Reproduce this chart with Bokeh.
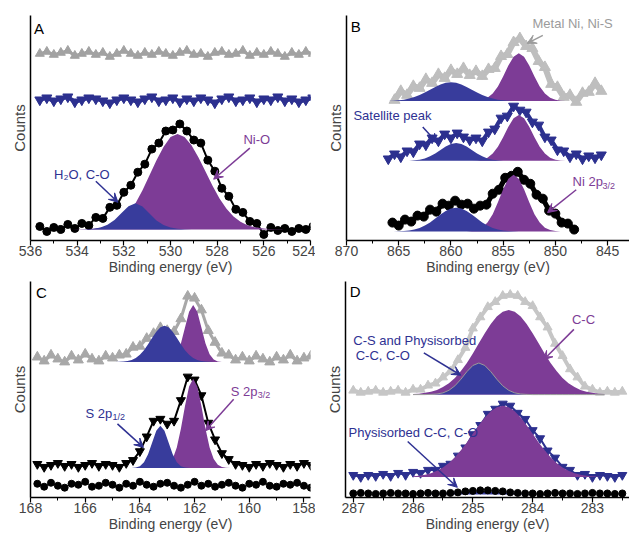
from bokeh.plotting import figure
from bokeh.layouts import column, row
from bokeh.models import Range1d, FixedTicker, Label, Arrow, VeeHead
from bokeh.embed import file_html
from bokeh.resources import INLINE

FONT = "Liberation Sans"
PURPLE = "#7D3C96"
BLUE = "#383C9C"
MBLUE = "#2C308F"
TXT_BLUE = "#2E3192"
TXT_GRAY = "#9B9B9B"

# ---------------- Panel A : O 1s ----------------
A_TICKS = [536, 534, 532, 530, 528, 526, 524]
A_MINOR = [535, 533, 531, 529, 527, 525]
A_X = [535.6, 535.3, 535.0, 534.7, 534.4, 534.1, 533.8, 533.5, 533.2, 532.9,
       532.6, 532.3, 532.0, 531.7, 531.4, 531.1, 530.8, 530.5, 530.2, 529.9,
       529.6, 529.3, 529.0, 528.7, 528.4, 528.1, 527.8, 527.5, 527.2, 526.9,
       526.6, 526.3, 526.0, 525.7, 525.4, 525.1, 524.8, 524.5, 524.2, 523.9]
A_GRAY = [186, 188, 185, 187, 189, 184, 186, 188, 185, 187, 183, 186, 189, 186, 184, 187, 185, 188, 186, 184,
          187, 189, 185, 186, 183, 187, 188, 185, 186, 189, 184, 187, 185, 188, 186, 183, 187, 185, 188, 186]
A_BLUE = [140, 142, 139, 141, 143, 138, 140, 142, 141, 139, 137, 140, 142, 140, 138, 141, 143, 139, 140, 142,
          138, 141, 139, 142, 140, 137, 141, 143, 139, 140, 142, 138, 141, 140, 143, 139, 141, 138, 140, 142]
A_BLACK = [14, 9, 13, 11, 16, 12, 17, 15, 23, 22, 33, 35, 48, 55, 68, 76, 91, 97, 109, 110,
           116, 109, 100, 97, 80, 69, 52, 44, 31, 28, 19, 17, 6, 13, 10, 12, 9, 12, 11, 14]
A_FIT_X = [534.2, 533.9, 533.6, 533.3, 533.0, 532.7, 532.4, 532.1, 531.8, 531.5, 531.2,
           530.9, 530.6, 530.3, 530.0, 529.7, 529.4, 529.1, 528.8, 528.5, 528.2, 527.9,
           527.6, 527.3, 527.0, 526.7, 526.4, 526.1, 525.8, 525.5, 525.2]
A_BASE = 11
A_FIT_NIO = [0, 0.1, 0.3, 0.8, 1.6, 3.2, 6, 10.5, 17, 26, 39, 54, 69, 82, 92, 95, 92.1, 83.8, 71.7, 57.6,
             43.5, 30.8, 20.5, 12.9, 7.6, 4.2, 2.2, 1.1, 0.5, 0.2, 0.1]
A_FIT_H2O = [0, 0, 0.1, 0.8, 2.0, 4.8, 9.5, 16.5, 23.0, 26, 22.9, 16.0, 9.0, 4.5, 2.0, 0.8, 0.3,
             0, 0, 0, 0, 0, 0, 0, 0, 0, 0, 0, 0, 0, 0]

# ---------------- Panel B : Ni 2p ----------------
B_TICKS = [870, 865, 860, 855, 850, 845]
B_MINOR = [867.5, 862.5, 857.5, 852.5, 847.5]
B_X_GRAY = [865.4, 864.8, 864.2, 863.6, 863.0, 862.4, 861.8, 861.2, 860.6, 860.0, 859.4, 858.8,
            858.2, 857.6, 857.0, 856.4, 855.8, 855.2, 854.6, 854.0, 853.4, 852.8, 852.2, 851.6,
            851.0, 850.4, 849.8, 849.2, 848.6, 848.0, 847.4, 846.8, 846.2, 845.6]
B_GRAY = [141, 150, 146, 155, 153, 162, 158, 167, 163, 171, 167, 173, 166, 170, 165, 172, 173, 185,
          187, 199, 203, 195, 193, 180, 174, 157, 154, 144, 146, 139, 148, 149, 158, 150]
B_X_BLUE = [866.0, 865.4, 864.8, 864.2, 863.6, 863.0, 862.4, 861.8, 861.2, 860.6, 860.0, 859.4,
            858.8, 858.2, 857.6, 857.0, 856.4, 855.8, 855.2, 854.6, 854.0, 853.4, 852.8, 852.2,
            851.6, 851.0, 850.4, 849.8, 849.2, 848.6, 848.0, 847.4, 846.8, 846.2, 845.6]
B_BLUE = [82, 87, 84, 90, 89, 97, 96, 103, 100, 107, 103, 108, 104, 101, 103, 100, 109, 112,
          123, 125, 135, 131, 129, 119, 116, 104, 101, 91, 90, 84, 87, 82, 85, 83, 86]
B_X_BLACK = [865.6, 865.0, 864.4, 863.8, 863.2, 862.6, 862.0, 861.4, 860.8, 860.2, 859.6, 859.0,
             858.4, 857.8, 857.2, 856.6, 856.0, 855.4, 854.8, 854.2, 853.6, 853.0, 852.4, 851.8,
             851.2, 850.6, 850.0, 849.4, 848.8, 848.2]
B_BLACK = [18, 15, 21, 19, 25, 24, 31, 29, 37, 35, 40, 36, 37, 32, 35, 36, 47, 51, 63, 65,
           69, 61, 57, 46, 42, 30, 27, 18, 17, 11]
B_FIT_X = [866.0, 865.5, 865.0, 864.5, 864.0, 863.5, 863.0, 862.5, 862.0, 861.5, 861.0, 860.5,
           860.0, 859.5, 859.0, 858.5, 858.0, 857.5, 857.0, 856.5, 856.0, 855.5, 855.0, 854.5,
           854.0, 853.5, 853.0, 852.5, 852.0, 851.5, 851.0, 850.5, 850.0, 849.5, 849.0, 848.5, 848.0]
B_GRAY_BASE = 140
B_GRAY_SAT = [0.2, 0.4, 0.8, 1.5, 2.6, 4.1, 6.2, 8.7, 11.5, 14.3, 16.8, 18.4, 19, 18.4, 16.8, 14.3,
              11.5, 8.7, 6.2, 4.1, 2.6, 1.5, 0.8, 0.4, 0.2, 0.1, 0, 0, 0, 0, 0, 0, 0, 0, 0, 0, 0]
B_GRAY_NI = [0, 0, 0, 0, 0, 0, 0, 0, 0, 0, 0, 0, 0, 0, 0, 0, 0.1, 0.4, 1.3, 3.3, 7.6, 14.7, 24.8,
             35.7, 44.5, 48, 44.5, 35.7, 24.8, 14.7, 7.6, 3.3, 1.3, 0.4, 0.1, 0, 0]
B_BLUE_BASE = 80
B_BLUE_SAT = [0, 0, 0, 0.1, 0.2, 0.5, 1.2, 2.4, 4.5, 7.4, 10.9, 14.4, 17.0, 18, 17.0, 14.4, 10.9,
              7.4, 4.5, 2.4, 1.2, 0.5, 0.2, 0.1, 0, 0, 0, 0, 0, 0, 0, 0, 0, 0, 0, 0, 0]
B_BLUE_NI = [0, 0, 0, 0, 0, 0, 0, 0, 0, 0, 0, 0, 0, 0, 0, 0, 0.1, 0.4, 1.2, 3.2, 7.3, 14.1, 23.7,
             34.2, 42.7, 46, 42.7, 34.2, 23.7, 14.1, 7.3, 3.2, 1.2, 0.4, 0.1, 0, 0]
B_BLACK_BASE = 9
B_BLACK_SAT = [0, 0.1, 0.2, 0.5, 1.1, 2.0, 3.6, 6.0, 9.1, 13.0, 17.0, 20.6, 23.1, 24, 23.1, 20.6,
               17.0, 13.0, 9.1, 6.0, 3.6, 2.0, 1.1, 0.5, 0.2, 0.1, 0, 0, 0, 0, 0, 0, 0, 0, 0, 0, 0]
B_BLACK_NI = [0, 0, 0, 0, 0, 0, 0, 0, 0, 0, 0, 0, 0, 0, 0, 0.1, 0.5, 1.5, 3.9, 9.0, 17.4, 29.4,
              42.4, 52.9, 57, 52.9, 42.4, 29.4, 17.4, 9.0, 3.9, 1.5, 0.5, 0.1, 0, 0, 0]

# ---------------- Panel C : S 2p ----------------
C_TICKS = [168, 166, 164, 162, 160, 158]
C_MINOR = [167, 165, 163, 161, 159]
C_X = [167.75, 167.5, 167.25, 167.0, 166.75, 166.5, 166.25, 166.0, 165.75, 165.5, 165.25, 165.0,
       164.75, 164.5, 164.25, 164.0, 163.75, 163.5, 163.25, 163.0, 162.75, 162.5, 162.25, 162.0,
       161.75, 161.5, 161.25, 161.0, 160.75, 160.5, 160.25, 160.0, 159.75, 159.5, 159.25, 159.0,
       158.75, 158.5, 158.25, 158.0, 157.75, 157.5]
C_GRAY = [143, 139, 145, 141, 138, 144, 140, 146, 141, 139, 144, 142, 145, 146, 153, 154, 162, 167,
          173, 170, 169, 182, 205, 203, 191, 170, 158, 147, 145, 140, 143, 139, 144, 141, 138, 143,
          140, 145, 139, 142, 144, 140]
C_BLACK = [34, 31, 33, 35, 32, 34, 31, 33, 35, 32, 34, 33, 31, 35, 38, 47, 62, 78, 80, 75, 78, 99,
           123, 120, 104, 76, 59, 45, 39, 34, 33, 31, 34, 32, 35, 33, 31, 34, 32, 35, 33, 34]
C_DOTS = [14, 11, 15, 12, 10, 14, 13, 16, 11, 12, 15, 13, 10, 14, 12, 16, 13, 11, 14, 15, 12, 10,
          13, 16, 12, 14, 11, 13, 15, 12, 10, 14, 13, 16, 12, 11, 14, 13, 15, 12, 10, 13]
C_FIT_X = [164.9, 164.75, 164.6, 164.45, 164.3, 164.15, 164.0, 163.85, 163.7, 163.55, 163.4,
           163.25, 163.1, 162.95, 162.8, 162.65, 162.5, 162.35, 162.2, 162.05, 161.9, 161.75,
           161.6, 161.45, 161.3, 161.15, 161.0, 160.85, 160.7, 160.55, 160.4]
C_GRAY_BASE = 138
C_GRAY_P12 = [0.1, 0.2, 0.4, 1.0, 2.1, 4.1, 7.3, 12.0, 18.0, 24.7, 30.9, 35.4, 37, 35.4, 30.9, 24.7,
              18.0, 12.0, 7.3, 4.1, 2.1, 1.0, 0.4, 0.2, 0.1, 0, 0, 0, 0, 0, 0]
C_GRAY_P32 = [0, 0, 0, 0, 0, 0, 0, 0, 0, 0, 0, 0, 0.1, 0.6, 2.5, 7.8, 18.8, 35.2, 51.2, 58, 51.2,
              35.2, 18.8, 7.8, 2.5, 0.6, 0.1, 0, 0, 0, 0]
C_BLACK_BASE = 30
C_BLACK_P12 = [0, 0, 0, 0, 0.1, 0.5, 1.9, 5.8, 14.0, 26.1, 37.9, 43, 37.9, 26.1, 14.0, 5.8, 1.9,
               0.5, 0.1, 0, 0, 0, 0, 0, 0, 0, 0, 0, 0, 0, 0]
C_BLACK_P32 = [0, 0, 0, 0, 0, 0, 0, 0, 0, 0, 0, 0.3, 1.0, 3.4, 9.2, 20.9, 39.9, 63.1, 83.0, 91,
               83.0, 63.1, 39.9, 20.9, 9.2, 3.4, 1.0, 0.3, 0, 0, 0]

# ---------------- Panel D : C 1s ----------------
D_TICKS = [287, 286, 285, 284, 283]
D_MINOR = [286.5, 285.5, 284.5, 283.5, 282.5]
D_X = [287.0, 286.875, 286.75, 286.625, 286.5, 286.375, 286.25, 286.125, 286.0, 285.875, 285.75,
       285.625, 285.5, 285.375, 285.25, 285.125, 285.0, 284.875, 284.75, 284.625, 284.5, 284.375,
       284.25, 284.125, 284.0, 283.875, 283.75, 283.625, 283.5, 283.375, 283.25, 283.125, 283.0,
       282.875, 282.75, 282.625, 282.5]
D_GRAY = [105, 103, 104, 105, 103, 104, 105, 103, 106, 106, 110, 112, 118, 124, 135, 147, 166, 177,
          187, 192, 198, 199, 198, 192, 188, 177, 167, 151, 139, 126, 118, 109, 106, 103, 104, 103, 104]
D_BLUE = [22, 20, 22, 21, 23, 21, 24, 22, 25, 24, 27, 27, 31, 33, 41, 49, 62, 71, 82, 87, 92, 90,
          83, 77, 66, 58, 46, 39, 30, 27, 22, 23, 20, 22, 21, 20, 22]
D_DOTS = [4, 4.5, 4, 3.5, 4, 4.5, 4, 4, 3.5, 4, 4.5, 4, 4, 4.5, 5, 6, 6.5, 7, 7, 6.5, 6, 5, 4.5,
          4, 4, 3.5, 4, 4.5, 4, 4, 3.5, 4, 4.5, 4, 4, 3.5, 4]
D_FIT_X = [286.0, 285.9, 285.8, 285.7, 285.6, 285.5, 285.4, 285.3, 285.2, 285.1, 285.0, 284.9,
           284.8, 284.7, 284.6, 284.5, 284.4, 284.3, 284.2, 284.1, 284.0, 283.9, 283.8, 283.7,
           283.6, 283.5, 283.4, 283.3, 283.2, 283.1, 283.0, 282.9, 282.8]
D_GRAY_BASE = 101
D_GRAY_CC = [0.5, 0.9, 1.7, 2.8, 4.6, 7.4, 11.2, 16.4, 23.1, 31.1, 40.4, 50.4, 60.3, 69.3, 76.6,
             81.3, 83, 81.3, 76.6, 69.3, 60.3, 50.4, 40.4, 31.1, 23.1, 16.4, 11.2, 7.4, 4.6, 2.8,
             1.7, 0.9, 0.5]
D_GRAY_CS = [0, 0, 0, 0.2, 0.6, 1.7, 4.2, 8.6, 15.1, 22.5, 28.6, 31, 28.6, 22.5, 15.1, 8.6, 4.2,
             1.7, 0.6, 0.2, 0, 0, 0, 0, 0, 0, 0, 0, 0, 0, 0, 0, 0]
D_BLUE_BASE = 20
D_BLUE_CC = [0.8, 1.4, 2.4, 3.9, 6.2, 9.5, 13.9, 19.5, 26.3, 34.1, 42.5, 50.8, 58.5, 64.6, 68.6,
             70, 68.6, 64.6, 58.5, 50.8, 42.5, 34.1, 26.3, 19.5, 13.9, 9.5, 6.2, 3.9, 2.4, 1.4,
             0.8, 0.4, 0.2]
D_DOTS_BASE = 3
D_DOTS_CS = [0, 0.1, 0.2, 0.4, 0.6, 1.0, 1.4, 1.8, 2.3, 2.6, 2.9, 3, 2.9, 2.6, 2.3, 1.8, 1.4, 1.0,
             0.6, 0.4, 0.2, 0.1, 0, 0, 0, 0, 0, 0, 0, 0, 0, 0, 0]


def make_fig(xr, yr, w, h, ticks, minor, bl, br, bt):
    p = figure(width=w, height=h, x_range=Range1d(*xr), y_range=Range1d(*yr),
               output_backend="svg", toolbar_location=None,
               min_border_left=bl, min_border_right=br, min_border_top=bt, min_border_bottom=0)
    p.outline_line_color = None
    p.xgrid.visible = False
    p.ygrid.visible = False
    xa = p.xaxis[0]
    xa.ticker = FixedTicker(ticks=ticks, minor_ticks=minor)
    xa.axis_label = "Binding energy (eV)"
    xa.axis_label_text_font = FONT
    xa.axis_label_text_font_size = "14px"
    xa.axis_label_text_font_style = "normal"
    xa.axis_label_standoff = 0
    xa.major_label_text_font = FONT
    xa.major_label_text_font_size = "14px"
    xa.major_label_standoff = 0
    xa.major_tick_out = 5
    xa.major_tick_in = 0
    xa.minor_tick_out = 3
    xa.minor_tick_in = 0
    xa.axis_line_width = 1.5
    xa.major_tick_line_width = 1.2
    ya = p.yaxis[0]
    ya.ticker = FixedTicker(ticks=[])
    ya.axis_label = "Counts"
    ya.axis_label_text_font = FONT
    ya.axis_label_text_font_size = "15px"
    ya.axis_label_text_font_style = "normal"
    ya.axis_label_standoff = 3
    ya.major_label_standoff = 0
    ya.major_tick_out = 0
    ya.minor_tick_out = 0
    ya.major_tick_line_color = None
    ya.minor_tick_line_color = None
    ya.axis_line_width = 1.5
    return p


def series(p, x, y, marker, color, size, lw):
    if lw:
        p.line(x, y, line_color=color, line_width=lw, line_join="round")
    p.scatter(x, y, marker=marker, size=size, fill_color=color, line_color=color)


def peak(p, x, base, comp, color, outline=None):
    top = [base + v for v in comp]
    p.varea(x=x, y1=[base] * len(x), y2=top, fill_color=color)
    if outline:
        p.line(x, top, line_color=outline, line_width=1)


def text(p, x, y, s, color, size="13px", align="center", baseline="middle", xo=0, yo=0):
    p.add_layout(Label(x=x, y=y, text=s, text_color=color, text_font=FONT, text_font_size=size,
                       text_align=align, text_baseline=baseline, x_offset=xo, y_offset=yo))


def arrow(p, x0, y0, x1, y1, color):
    p.add_layout(Arrow(end=VeeHead(size=9, fill_color=color, line_color=color, line_width=1),
                       x_start=x0, y_start=y0, x_end=x1, y_end=y1,
                       line_color=color, line_width=1.5))


# ----- A -----
pA = make_fig((536, 524), (0, 224), 315, 277, A_TICKS, A_MINOR, 30, 5, 15)
series(pA, A_X, A_GRAY, "triangle", "#A2A2A2", 9, 3)
series(pA, A_X, A_BLUE, "inverted_triangle", MBLUE, 10, 4)
series(pA, A_X, A_BLACK, "circle", "black", 8, 2)
peak(pA, A_FIT_X, A_BASE, A_FIT_NIO, PURPLE)
peak(pA, A_FIT_X, A_BASE, A_FIT_H2O, BLUE)
text(pA, 535.85, 220, "A", "black", "15px", "left", "top")
text(pA, 526.3, 101, "Ni-O", PURPLE)
arrow(pA, 526.6, 92, 528.15, 61, PURPLE)
text(pA, 533.8, 66, "H\u2082O, C-O", TXT_BLUE)
arrow(pA, 533.2, 59, 532.25, 38, TXT_BLUE)

# ----- B -----
pB = make_fig((870, 842.9), (0, 226), 314, 277, B_TICKS, B_MINOR, 31, 0, 15)
series(pB, B_X_GRAY, B_GRAY, "triangle", "#BEBEBE", 11, 6)
series(pB, B_X_BLUE, B_BLUE, "inverted_triangle", MBLUE, 10, 4)
series(pB, B_X_BLACK, B_BLACK, "circle", "black", 9, 5)
peak(pB, B_FIT_X, B_GRAY_BASE, B_GRAY_NI, PURPLE)
peak(pB, B_FIT_X, B_GRAY_BASE, B_GRAY_SAT, BLUE)
peak(pB, B_FIT_X, B_BLUE_BASE, B_BLUE_NI, PURPLE)
peak(pB, B_FIT_X, B_BLUE_BASE, B_BLUE_SAT, BLUE)
peak(pB, B_FIT_X, B_BLACK_BASE, B_BLACK_NI, PURPLE)
peak(pB, B_FIT_X, B_BLACK_BASE, B_BLACK_SAT, BLUE)
text(pB, 869.6, 223, "B", "black", "15px", "left", "top")
text(pB, 848.35, 218, "Metal Ni, Ni-S", TXT_GRAY)
arrow(pB, 851.2, 206, 852.7, 198, TXT_GRAY)
text(pB, 865.6, 126, "Satellite peak", TXT_BLUE)
arrow(pB, 862.7, 114, 861.3, 98, TXT_BLUE)
text(pB, 848.35, 59, "Ni 2p", PURPLE, align="left")
text(pB, 848.35, 59, "3/2", PURPLE, size="9px", align="left", xo=30, yo=-4)
arrow(pB, 848.0, 51, 850.75, 28, PURPLE)

# ----- C -----
pC = make_fig((168, 157.76), (0, 220), 315, 257, C_TICKS, C_MINOR, 30, 5, 2)
series(pC, C_X, C_GRAY, "triangle", "#A8A8A8", 10, 3)
series(pC, C_X, C_BLACK, "inverted_triangle", "black", 9, 2)
series(pC, C_X, C_DOTS, "circle", "black", 7, 1)
peak(pC, C_FIT_X, C_GRAY_BASE, C_GRAY_P32, PURPLE)
peak(pC, C_FIT_X, C_GRAY_BASE, C_GRAY_P12, BLUE)
peak(pC, C_FIT_X, C_BLACK_BASE, C_BLACK_P32, PURPLE)
peak(pC, C_FIT_X, C_BLACK_BASE, C_BLACK_P12, BLUE)
text(pC, 167.8, 217, "C", "black", "15px", "left", "top")
text(pC, 165.99, 86, "S 2p", TXT_BLUE, align="left")
text(pC, 165.99, 86, "1/2", TXT_BLUE, size="9px", align="left", xo=27, yo=-4)
arrow(pC, 164.82, 75, 163.87, 51, TXT_BLUE)
text(pC, 160.68, 108, "S 2p", PURPLE, align="left")
text(pC, 160.68, 108, "3/2", PURPLE, size="9px", align="left", xo=27, yo=-4)
arrow(pC, 160.57, 100, 161.6, 68, PURPLE)

# ----- D -----
pD = make_fig((287.13, 282.38), (0, 212), 314, 257, D_TICKS, D_MINOR, 30, 0, 4)
series(pD, D_X, D_GRAY, "triangle", "#C6C6C6", 9, 4)
series(pD, D_X, D_BLUE, "inverted_triangle", MBLUE, 9, 2)
peak(pD, D_FIT_X, D_GRAY_BASE, D_GRAY_CC, PURPLE)
peak(pD, D_FIT_X, D_GRAY_BASE, D_GRAY_CS, BLUE, outline="#9A9A9A")
peak(pD, D_FIT_X, D_BLUE_BASE, D_BLUE_CC, PURPLE)
peak(pD, D_FIT_X, D_DOTS_BASE, D_DOTS_CS, BLUE)
series(pD, D_X, D_DOTS, "circle", "black", 7, 0)
text(pD, 287.06, 211, "D", "black", "15px", "left", "top")
text(pD, 283.15, 175, "C-C", PURPLE)
arrow(pD, 283.31, 165, 283.82, 135, PURPLE)
text(pD, 287.0, 154, "C-S and Physisorbed", TXT_BLUE, align="left")
text(pD, 286.96, 139, "C-C, C-O", TXT_BLUE, align="left")
arrow(pD, 285.82, 142, 285.2, 120, TXT_BLUE)
text(pD, 287.08, 64, "Physisorbed C-C, C-O", TXT_BLUE, align="left")
arrow(pD, 286.09, 55, 285.26, 10, TXT_BLUE)

layout = column(row(pA, pB), row(pC, pD))
open("out.html", "w").write(file_html(layout, INLINE))
